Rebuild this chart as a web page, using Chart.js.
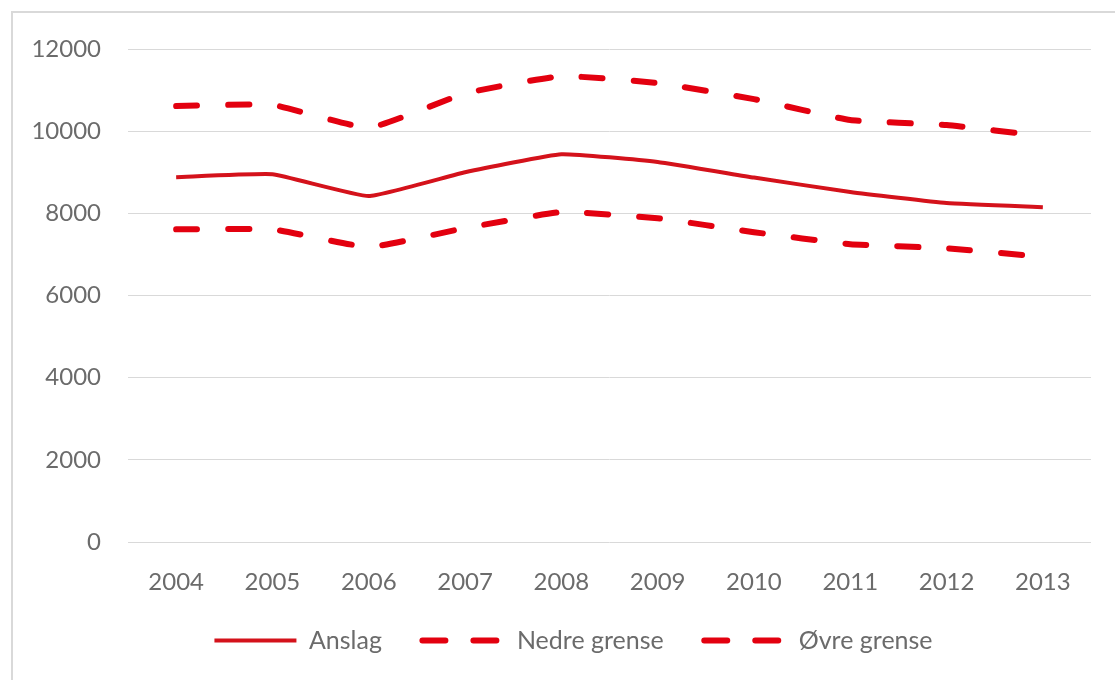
<!DOCTYPE html>
<html>
<head>
<meta charset="utf-8">
<script src="https://cdn.jsdelivr.net/npm/chart.js@4"></script>
<style>
  html, body { margin: 0; padding: 0; background: #fff; }
  #wrap { position: relative; width: 1115px; height: 680px; overflow: hidden; }
  #frame { position: absolute; left: 11px; top: 11px; width: 1120px; height: 700px;
           border: 2px solid #d9d9d9; box-sizing: border-box; }
  #chart { position: absolute; left: 0; top: 0; }
</style>
</head>
<body>
<div id="wrap">
  <div id="frame"></div>
  <canvas id="chart" width="1115" height="680"></canvas>
</div>
<script>
// data
const years = ['2004', '2005', '2006', '2007', '2008', '2009', '2010', '2011', '2012', '2013'];
const anslag = [8880, 8950, 8420, 9000, 9440, 9250, 8870, 8520, 8250, 8150];
const nedreGrense = [7610, 7610, 7180, 7640, 8030, 7880, 7540, 7250, 7150, 6940];
const ovreGrense = [10610, 10640, 10080, 10920, 11340, 11170, 10780, 10270, 10150, 9880];
const yTicks = [0, 2000, 4000, 6000, 8000, 10000, 12000];

const gray = '#6b6b6b';
const fontFamily = 'Lato, "Noto Sans", sans-serif';
const tickFont = { family: fontFamily, size: 24 };
const legendFont = { family: fontFamily, size: 25 };
const dash = [21, 31];

// the legend sits a bit right of centre in the original
const legendShift = {
    id: 'legendShift',
    afterLayout(chart) {
        if (chart.legend) chart.legend.left += 36;
    }
};

const ctx = document.getElementById('chart').getContext('2d');

new Chart(ctx, {
    type: 'line',
    data: {
        labels: years,
        datasets: [
            {
                label: 'Anslag',
                data: anslag,
                borderColor: '#d4121b',
                borderWidth: 4,
                pointRadius: 0,
                tension: 0.12,
                fill: false
            },
            {
                label: 'Nedre grense',
                data: nedreGrense,
                borderColor: '#e3000f',
                borderWidth: 6,
                borderDash: dash,
                borderCapStyle: 'round',
                pointRadius: 0,
                tension: 0.12,
                fill: false
            },
            {
                label: 'Øvre grense',
                data: ovreGrense,
                borderColor: '#e3000f',
                borderWidth: 6,
                borderDash: dash,
                borderCapStyle: 'round',
                pointRadius: 0,
                tension: 0.12,
                fill: false
            }
        ]
    },
    plugins: [legendShift],
    options: {
        responsive: false,
        animation: false,
        layout: { padding: { left: 20, right: 24, top: 49, bottom: 17 } },
        plugins: {
            tooltip: { enabled: false },
            legend: {
                position: 'bottom',
                labels: {
                    color: gray,
                    font: legendFont,
                    usePointStyle: true,
                    pointStyleWidth: 82,
                    padding: 28,
                    // dashes do not come through with point style, so set them here
                    // (en space after the first two labels widens the gap between items)
                    generateLabels: (chart) => chart.data.datasets.map((ds, i, all) => ({
                        text: i < all.length - 1 ? ds.label + '\u2002' : ds.label,
                        fontColor: gray,
                        strokeStyle: ds.borderColor,
                        fillStyle: ds.borderColor,
                        lineWidth: ds.borderWidth,
                        lineDash: ds.borderDash ? [23, 28] : [],
                        lineCap: ds.borderDash ? 'round' : 'butt',
                        pointStyle: 'line',
                        datasetIndex: i
                    }))
                }
            }
        },
        scales: {
            x: {
                offset: true,
                grid: { display: false },
                border: { display: false },
                ticks: { color: gray, font: tickFont, padding: 18, maxRotation: 0 },
                afterFit: (scale) => { scale.height = 58; }
            },
            y: {
                min: 0,
                max: 12000,
                afterBuildTicks: (scale) => { scale.ticks = yTicks.map(v => ({ value: v })); },
                grid: { color: '#d9d9d9', lineWidth: 1, drawTicks: false },
                border: { display: false },
                ticks: { color: gray, font: tickFont, padding: 27, callback: (v) => String(v) },
                afterFit: (scale) => { scale.width = 108; }
            }
        }
    }
});
</script>
</body>
</html>
